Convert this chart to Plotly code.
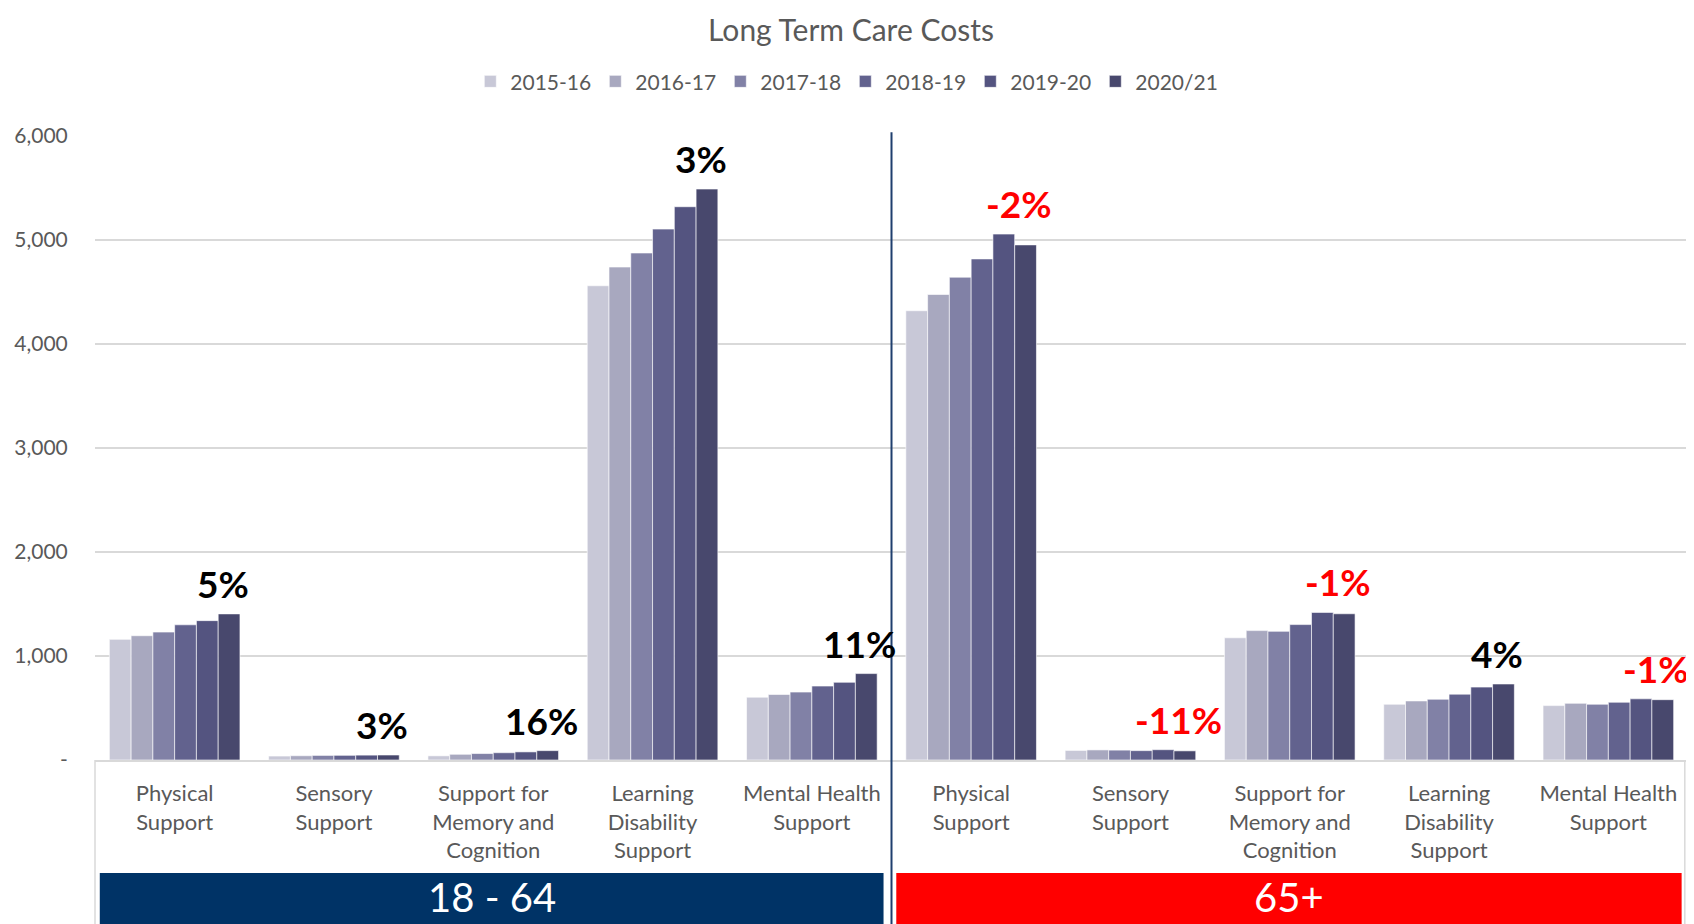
import plotly.graph_objects as go

# ---- data ----
categories = ["Physical<br>Support", "Sensory<br>Support", "Support for<br>Memory and<br>Cognition",
              "Learning<br>Disability<br>Support", "Mental Health<br>Support",
              "Physical<br>Support", "Sensory<br>Support", "Support for<br>Memory and<br>Cognition",
              "Learning<br>Disability<br>Support", "Mental Health<br>Support"]
age_groups = ["18 - 64", "65+"]
years = ["2015-16", "2016-17", "2017-18", "2018-19", "2019-20", "2020/21"]

v_2015_16 = [1160, 38, 40, 4560, 604, 4320, 92, 1175, 536, 523]
v_2016_17 = [1195, 41, 55, 4740, 630, 4476, 97, 1244, 568, 545]
v_2017_18 = [1230, 44, 62, 4875, 653, 4642, 95, 1237, 584, 536]
v_2018_19 = [1300, 45, 70, 5105, 711, 4818, 90, 1302, 633, 555]
v_2019_20 = [1340, 47, 78, 5320, 747, 5057, 99, 1419, 701, 588]
v_2020_21 = [1405, 48, 90, 5490, 831, 4953, 88, 1406, 731, 580]
series = [v_2015_16, v_2016_17, v_2017_18, v_2018_19, v_2019_20, v_2020_21]

pct_labels = ["5%", "3%", "16%", "3%", "11%", "-2%", "-11%", "-1%", "4%", "-1%"]

y_ticks = [0, 1000, 2000, 3000, 4000, 5000, 6000]
y_ticktext = ["-", "1,000", "2,000", "3,000", "4,000", "5,000", "6,000"]

colors = ["#C8C8D7", "#A8A8BF", "#8181A6", "#62628E", "#545480", "#48486D"]

FONT = "Lato, 'Open Sans', sans-serif"
GREY = "#595959"

x_pos = list(range(len(categories)))

fig = go.Figure()
for name, vals, col in zip(years, series, colors):
    fig.add_trace(go.Bar(x=x_pos, y=vals, name=name,
                         marker=dict(color=col, line=dict(color="white", width=0.6))))

# percentage annotations
for i, lab in enumerate(pct_labels):
    top = max(s[i] for s in series)
    fig.add_annotation(x=x_pos[i], y=top, text="<b>" + lab + "</b>", showarrow=False,
                       xanchor="center", yanchor="bottom", xshift=48, yshift=6,
                       font=dict(family=FONT, size=37,
                                 color="#FF0000" if lab.startswith("-") else "#000000"))

# group bands
band_cols = ["#003366", "#FF0000"]
band_x = [(-0.47, 4.45), (4.53, 9.46)]
for (x0, x1), col, lab in zip(band_x, band_cols, age_groups):
    fig.add_shape(type="rect", xref="x", yref="paper", x0=x0, x1=x1, y0=-0.181, y1=-0.28,
                  fillcolor=col, line=dict(width=0), layer="above")
    fig.add_annotation(x=(x0 + x1) / 2, xref="x", y=-0.219, yref="paper", text=lab,
                       showarrow=False, xanchor="center", yanchor="middle",
                       font=dict(family=FONT, size=40, color="white"))

# separator and frame lines
fig.add_shape(type="line", xref="x", yref="paper", x0=4.5, x1=4.5, y0=1.006, y1=-0.28,
              line=dict(color="#1F3F6E", width=2), layer="above")
for xp in (0, 0.998):
    fig.add_shape(type="line", xref="paper", yref="paper", x0=xp, x1=xp, y0=0, y1=-0.28,
                  line=dict(color="#D9D9D9", width=1.5))

fig.update_layout(
    width=1686, height=916,
    margin=dict(l=85, r=6, t=128, b=164),
    paper_bgcolor="white", plot_bgcolor="white",
    barmode="group", bargap=0.18, bargroupgap=0,
    title=dict(text="Long Term Care Costs", x=0.5, xanchor="center", y=0.975, yanchor="middle",
               font=dict(family=FONT, size=30, color=GREY)),
    legend=dict(orientation="h", x=0.471, xanchor="center", y=1.087, yanchor="middle",
                font=dict(family=FONT, size=21, color=GREY), traceorder="normal",
                entrywidth=80, entrywidthmode="pixels"),
    font=dict(family=FONT, color=GREY),
)
fig.update_xaxes(tickmode="array", tickvals=x_pos, ticktext=categories,
                 range=[-0.5, 9.5], showgrid=False, showline=True, linecolor="#D9D9D9",
                 linewidth=1.5, ticks="outside", ticklen=13, tickcolor="rgba(0,0,0,0)",
                 tickangle=0, tickfont=dict(family=FONT, size=22, color=GREY))
fig.update_yaxes(range=[0, 6000], tickmode="array", tickvals=y_ticks, ticktext=y_ticktext,
                 showgrid=True, gridcolor="#D9D9D9", gridwidth=1.5, zeroline=False,
                 showline=False, ticks="outside", ticklen=22, tickcolor="rgba(0,0,0,0)",
                 tickfont=dict(family=FONT, size=21, color=GREY))

fig.write_html("out.html")
